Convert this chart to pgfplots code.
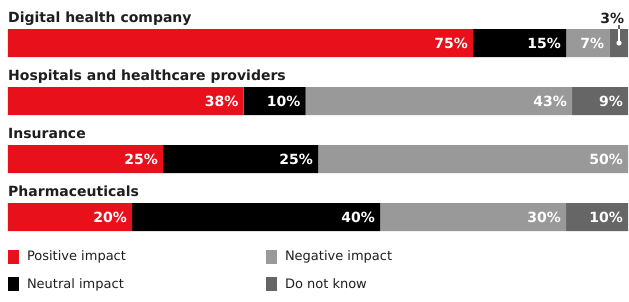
\documentclass[border=0pt]{standalone}
\usepackage{pgfplots}
\pgfplotsset{compat=1.18}
\usepackage{fontspec}
\setmainfont{DejaVu Sans}
\definecolor{posred}{HTML}{E8111B}
\definecolor{neggray}{HTML}{999999}
\definecolor{dkgray}{HTML}{666666}
\definecolor{txt}{HTML}{1E1E1E}
\begin{document}
\begin{tikzpicture}
\begin{axis}[
 scale only axis, width=620pt, height=301pt,
 xmin=0, xmax=100, ymin=-0.74138, ymax=4.44828, y dir=reverse,
 hide axis, clip=false,
 xbar stacked, bar width=28pt,
 point meta=explicit symbolic,
 visualization depends on=rawx \as \rawx,
 nodes near coords,
 nodes near coords style={anchor=east, xshift=\rawx*3.1pt-5pt, inner sep=0pt, text=white, font=\fontsize{14}{16}\selectfont\bfseries},
 area legend,
 legend image code/.code={\fill[#1] (0pt,-7pt) rectangle (11pt,7pt);},
 legend columns=2, transpose legend, legend cell align=left,
 legend style={draw=none, fill=none, at={(0,0.17276)}, anchor=north west,
   inner sep=0pt, outer sep=0pt, row sep=12pt, column sep=6pt,
   font=\fontsize{13}{15}\selectfont, text=txt},
]
\addplot[fill=posred, draw=none] coordinates {(75,0) [75\%] (38,1) [38\%] (25,2) [25\%] (20,3) [20\%]};
\addplot[fill=black, draw=none] coordinates {(15,0) [15\%] (10,1) [10\%] (25,2) [25\%] (40,3) [40\%]};
\addplot[fill=neggray, draw=none] coordinates {(7,0) [7\%] (43,1) [43\%] (50,2) [50\%] (30,3) [30\%]};
\addplot[fill=dkgray, draw=none] coordinates {(3,0) [{}] (9,1) [9\%] (0,2) [{}] (10,3) [10\%]};
\legend{\makebox[231pt][l]{Positive impact},\makebox[231pt][l]{Neutral impact},Negative impact,Do not know}

\node[anchor=base west, inner sep=0pt, font=\fontsize{14}{16}\selectfont\bfseries, text=txt, yshift=21pt] at (axis cs:0,0) {Digital health company};
\node[anchor=base west, inner sep=0pt, font=\fontsize{14}{16}\selectfont\bfseries, text=txt, yshift=21pt] at (axis cs:0,1) {Hospitals and healthcare providers};
\node[anchor=base west, inner sep=0pt, font=\fontsize{14}{16}\selectfont\bfseries, text=txt, yshift=21pt] at (axis cs:0,2) {Insurance};
\node[anchor=base west, inner sep=0pt, font=\fontsize{14}{16}\selectfont\bfseries, text=txt, yshift=21pt] at (axis cs:0,3) {Pharmaceuticals};
\node[anchor=base east, inner sep=0pt, font=\fontsize{14}{16}\selectfont\bfseries, text=txt, yshift=20pt] at (axis cs:99.4,0) {3\%};
\coordinate (dnk) at (axis cs:98.55,0);
\end{axis}
\draw[white, line width=1.2pt] (dnk) -- ++(0pt,14pt);
\draw[black!60, line width=1.2pt] (dnk) ++(0pt,14pt) -- ++(0pt,3.5pt);
\fill[white] (dnk) circle (2.6pt);
\path ([xshift=-8pt]current axis.south west) ([xshift=1pt]current axis.north east);
\end{tikzpicture}
\end{document}
